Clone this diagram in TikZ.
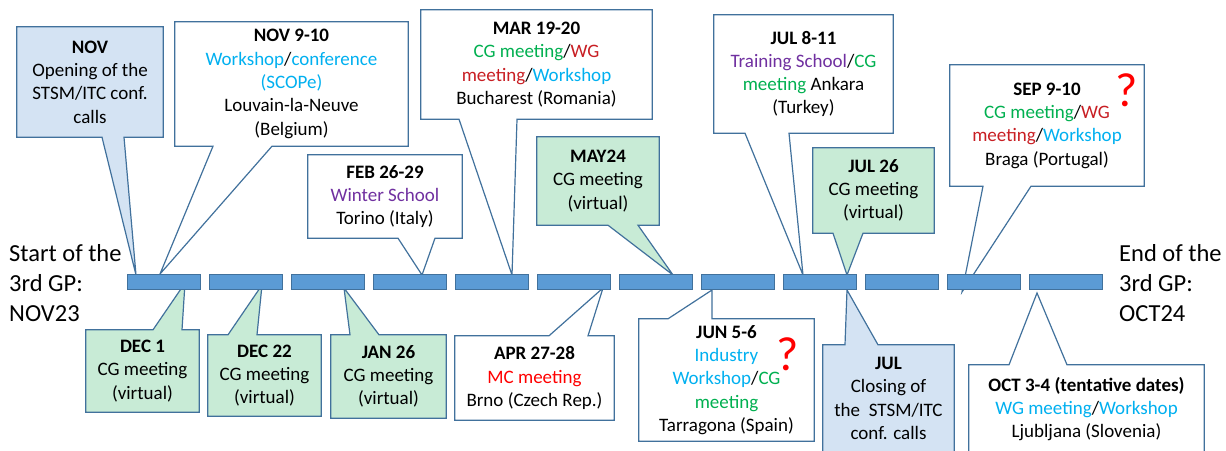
\documentclass[tikz,border=0pt]{standalone}
\usepackage{fontspec}
\setmainfont{Carlito}
\usetikzlibrary{backgrounds}

\definecolor{boxline}{HTML}{41719C}
\definecolor{barfill}{HTML}{5B9BD5}
\definecolor{greenfill}{RGB}{200,235,214}
\definecolor{bluefill}{RGB}{212,227,243}
\definecolor{wscyan}{HTML}{00B0F0}
\definecolor{cggreen}{HTML}{00B050}
\definecolor{wgred}{RGB}{200,30,35}
\definecolor{schpurple}{HTML}{7030A0}

\newcommand{\wsp}[1]{\textcolor{wscyan}{#1}}
\newcommand{\cgm}[1]{\textcolor{cggreen}{#1}}
\newcommand{\wgm}[1]{\textcolor{wgred}{#1}}
\newcommand{\sch}[1]{\textcolor{schpurple}{#1}}

\begin{document}
\begin{tikzpicture}[x=1pt, y=-1pt, every node/.style={font=\fontsize{19}{23.3}\selectfont},
    evt/.style={inner sep=0pt, align=center},
    outline/.style={draw=boxline, line width=1.2pt, line join=miter},
    whitebox/.style={outline, fill=white},
    greenbox/.style={outline, fill=greenfill},
    bluebox/.style={outline, fill=bluefill},
    bar/.style={draw=boxline, line width=0.6pt, fill=barfill, minimum width=73, minimum height=15, inner sep=0pt},
    sidetext/.style={anchor=west, align=left, inner sep=0pt, font=\fontsize{24.5}{30}\selectfont},
    qmark/.style={text=red, inner sep=0pt, font=\fontsize{48}{50}\selectfont}]
    \useasboundingbox (0,0) rectangle (1226,450);

    % Timeline
    \foreach \i in {0,...,11}
        \node[bar] (b\i) at ({163.5+82*\i},282) {};
    \node[sidetext] (start) at (9,283) {Start of the\\3rd GP:\\NOV23};
    \node[sidetext] (end) at (1119,283) {End of the\\3rd GP:\\OCT24};

    % Pointer tips on the timeline
    \coordinate (tnov) at (136,275);
    \coordinate (tn910) at (160,274);
    \coordinate (tfeb) at (422,275);
    \coordinate (tmar) at (512,275);
    \coordinate (tmay) at (673,275);
    \coordinate (tj811) at (803,275);
    \coordinate (tj26) at (847,275);
    \coordinate (tsep) at (962,292);
    \coordinate (tdec1) at (185,283);
    \coordinate (tdec22) at (262,285);
    \coordinate (tjan) at (344,288);
    \coordinate (tapr) at (603,288);
    \coordinate (tjun) at (712,290);
    \coordinate (tjul) at (847,290);
    \coordinate (toct) at (1037,293);

    % Events above the timeline
    \node[evt, minimum width=146, minimum height=110] (nov) at (90,82) {\textbf{NOV}\\Opening of the\\STSM/ITC conf.\\calls};
    \node[evt, minimum width=233, minimum height=124] (n910) at (291.5,84) {\textbf{NOV 9-10}\\\wsp{Workshop}/\wsp{conference}\\\wsp{(SCOPe)}\\Louvain-la-Neuve\\(Belgium)};
    \node[evt, minimum width=154, minimum height=83] (feb) at (385,196.5) {\textbf{FEB 26-29}\\\sch{Winter School}\\Torino (Italy)};
    \node[evt, minimum width=231, minimum height=109] (mar) at (536.5,64.5) {\textbf{MAR 19-20}\\\cgm{CG meeting}/\wgm{WG}\\\wgm{meeting}/\wsp{Workshop}\\Bucharest (Romania)};
    \node[evt, minimum width=122, minimum height=88] (may) at (598,181) {\textbf{MAY24}\\CG meeting\\(virtual)};
    \node[evt, minimum width=179, minimum height=118] (j811) at (803.5,74) {\textbf{JUL 8-11}\\\sch{Training School}/\cgm{CG}\\\cgm{meeting} Ankara\\(Turkey)};
    \node[evt, minimum width=121, minimum height=85] (j26) at (873.5,190.5) {\textbf{JUL 26}\\CG meeting\\(virtual)};
    \node[evt, minimum width=194, minimum height=121] (sep) at (1047,125.5) {\textbf{SEP 9-10}\\\cgm{CG meeting}/\wgm{WG}\\\wgm{meeting}/\wsp{Workshop}\\Braga (Portugal)};

    % Events below the timeline
    \node[evt, minimum width=113, minimum height=82] (dec1) at (142.5,371) {\textbf{DEC 1}\\CG meeting\\(virtual)};
    \node[evt, minimum width=113, minimum height=81] (dec22) at (264.5,375.5) {\textbf{DEC 22}\\CG meeting\\(virtual)};
    \node[evt, minimum width=115, minimum height=83] (jan) at (388.5,376.5) {\textbf{JAN 26}\\CG meeting\\(virtual)};
    \node[evt, minimum width=159, minimum height=84] (apr) at (534.5,378) {\textbf{APR 27-28}\\\textcolor{red}{MC meeting}\\Brno (Czech Rep.)};
    \node[evt, minimum width=175, minimum height=122] (jun) at (726.5,380) {\textbf{JUN 5-6}\\\wsp{Industry}\\\wsp{Workshop}/\cgm{CG}\\\cgm{meeting}\\Tarragona (Spain)};
    \node[evt, minimum width=131, minimum height=107] (jul) at (888.5,398.5) {\textbf{JUL}\\Closing of\\the\ \ STSM/ITC\\conf. calls};
    \node[evt, minimum width=235, minimum height=88] (oct) at (1086.5,409) {\textbf{OCT 3-4 (tentative dates)}\\\wsp{WG meeting}/\wsp{Workshop}\\Ljubljana (Slovenia)};

    % Open questions
    \node[qmark] (qsep) at (1127,90) {?};
    \node[qmark] (qjun) at (788,354) {?};

    % Callout outlines
    \begin{scope}[on background layer]
        \draw[bluebox] (nov.north west) -- (nov.north east) -- (nov.south east) -- (nov.south -| 124,0) -- (tnov) -- (nov.south -| 102,0) -- (nov.south west) -- cycle;
        \draw[whitebox] (n910.north west) -- (n910.north east) -- (n910.south east) -- (n910.south -| 272,0) -- (tn910) -- (n910.south -| 213,0) -- (n910.south west) -- cycle;
        \draw[whitebox] (feb.north west) -- (feb.north east) -- (feb.south east) -- (feb.south -| 435,0) -- (tfeb) -- (feb.south -| 398,0) -- (feb.south west) -- cycle;
        \draw[whitebox] (mar.north west) -- (mar.north east) -- (mar.south east) -- (mar.south -| 517,0) -- (tmar) -- (mar.south -| 459,0) -- (mar.south west) -- cycle;
        \draw[greenbox] (may.north west) -- (may.north east) -- (may.south east) -- (may.south -| 638,0) -- (tmay) -- (may.south -| 608,0) -- (may.south west) -- cycle;
        \draw[whitebox] (j811.north west) -- (j811.north east) -- (j811.south east) -- (j811.south -| 789,0) -- (tj811) -- (j811.south -| 745,0) -- (j811.south west) -- cycle;
        \draw[greenbox] (j26.north west) -- (j26.north east) -- (j26.south east) -- (j26.south -| 863,0) -- (tj26) -- (j26.south -| 833,0) -- (j26.south west) -- cycle;
        \draw[whitebox] (sep.north west) -- (sep.north east) -- (sep.south east) -- (sep.south -| 1031,0) -- (tsep) -- (sep.south -| 983,0) -- (sep.south west) -- cycle;

        \draw[greenbox] (dec1.south west) -- (dec1.south east) -- (dec1.north east) -- (dec1.north -| 182,0) -- (tdec1) -- (dec1.north -| 153,0) -- (dec1.north west) -- cycle;
        \draw[greenbox] (dec22.south west) -- (dec22.south east) -- (dec22.north east) -- (dec22.north -| 257,0) -- (tdec22) -- (dec22.north -| 228,0) -- (dec22.north west) -- cycle;
        \draw[greenbox] (jan.south west) -- (jan.south east) -- (jan.north east) -- (jan.north -| 379,0) -- (tjan) -- (jan.north -| 350,0) -- (jan.north west) -- cycle;
        \draw[whitebox] (apr.south west) -- (apr.south east) -- (apr.north east) -- (apr.north -| 588,0) -- (tapr) -- (apr.north -| 549,0) -- (apr.north west) -- cycle;
        \draw[whitebox] (jun.south west) -- (jun.south east) -- (jun.north east) -- (jun.north -| 712,0) -- (tjun) -- (jun.north -| 668,0) -- (jun.north west) -- cycle;
        \draw[bluebox] (jul.south west) -- (jul.south east) -- (jul.north east) -- (jul.north -| 878,0) -- (tjul) -- (jul.north -| 845,0) -- (jul.north west) -- cycle;
        \draw[whitebox] (oct.south west) -- (oct.south east) -- (oct.north east) -- (oct.north -| 1067,0) -- (toct) -- (oct.north -| 1009,0) -- (oct.north west) -- cycle;
    \end{scope}
\end{tikzpicture}
\end{document}
